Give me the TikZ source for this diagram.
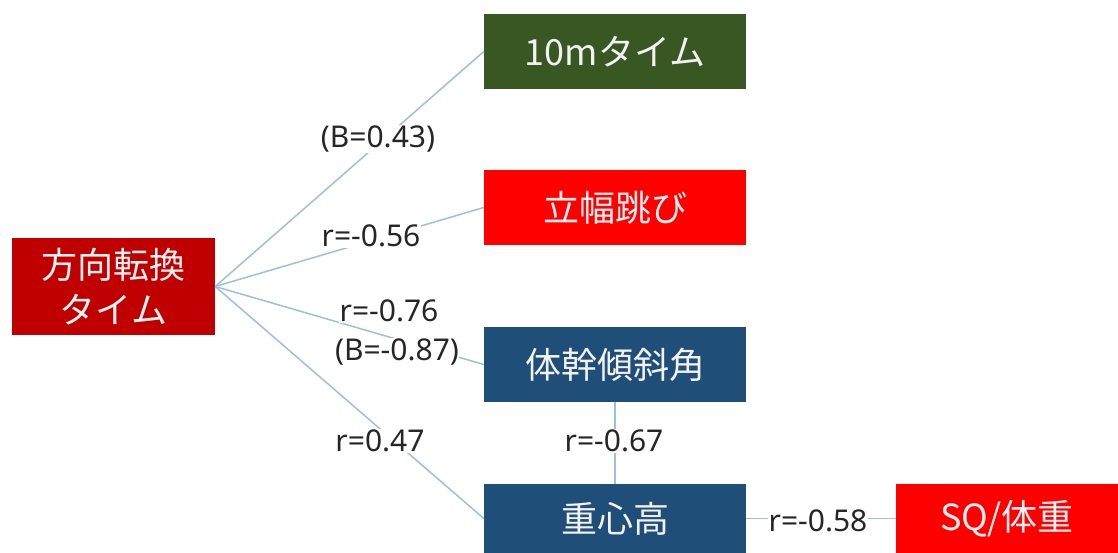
\documentclass[tikz,border=0pt]{standalone}
\usepackage{fontspec}
\newfontfamily\jp{Noto Sans CJK JP}
\setmainfont{Noto Sans}
\definecolor{dred}{HTML}{C00000}
\definecolor{dgreen}{HTML}{385723}
\definecolor{bred}{HTML}{FF0000}
\definecolor{dblue}{HTML}{1F4E79}
\definecolor{lnblue}{HTML}{9DBFE0}
\definecolor{txt}{HTML}{262626}
\definecolor{boxtxt}{HTML}{F2F2F2}
\tikzset{
  box/.style={draw=none, inner sep=0pt, text=boxtxt, align=center,
    font=\jp\fontsize{36}{45}\selectfont},
  lbl/.style={fill=white, inner sep=0.5pt, text=txt, font=\fontsize{30}{34}\selectfont},
  conn/.style={draw=lnblue, line width=1.5pt}
}
\begin{document}
\begin{tikzpicture}[x=1pt,y=-1pt]
\useasboundingbox (0,0) rectangle (1118,553);
\node[box, fill=dred, minimum width=203pt, minimum height=97pt] (src) at (113.5,286.5) {方向転換\\タイム};
\node[box, fill=dgreen, minimum width=262pt, minimum height=75pt] (ten) at (615,51.5) {10mタイム};
\node[box, fill=bred, minimum width=262pt, minimum height=75pt] (jump) at (615,207.5) {立幅跳び};
\node[box, fill=dblue, minimum width=262pt, minimum height=75pt] (trunk) at (615,364.5) {体幹傾斜角};
\node[box, fill=dblue, minimum width=262pt, minimum height=69pt] (cog) at (615,518.5) {重心高};
\node[box, fill=bred, minimum width=222pt, minimum height=69pt] (sq) at (1007,518.5) {SQ/体重};

\draw[conn] (src.east) -- (ten.west);
\draw[conn] (src.east) -- (jump.west);
\draw[conn] (src.east) -- (trunk.west);
\draw[conn] (src.east) -- (cog.west);
\draw[conn] (trunk.south) -- (cog.north);
\draw[conn] (cog.east) -- (sq.west);

\node[lbl] (l1) at (378,139) {(B=0.43)};
\node[lbl] (l2) at (371,236) {r=-0.56};
\node[lbl] (l3) at (389,311) {r=-0.76};
\node[lbl] (l4) at (397,352) {(B=-0.87)};
\node[lbl] (l5) at (380,441) {r=0.47};
\node[lbl] (l6) at (614,441) {r=-0.67};
\node[lbl] (l7) at (818,521) {r=-0.58};
\end{tikzpicture}
\end{document}
